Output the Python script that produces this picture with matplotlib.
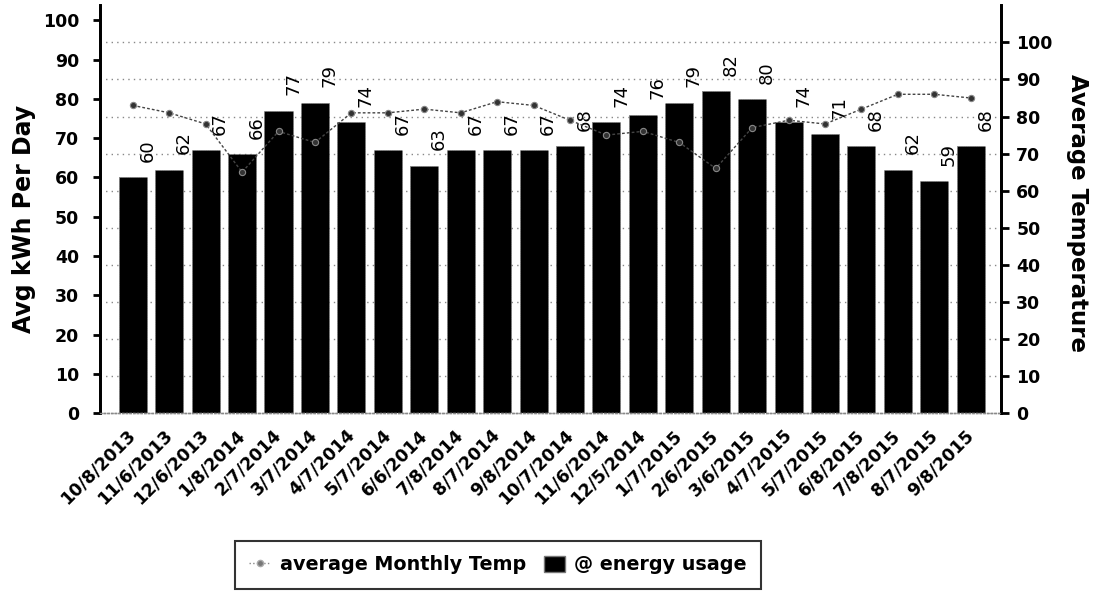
import matplotlib.pyplot as plt
import numpy as np
from matplotlib.patches import Patch
from matplotlib.lines import Line2D

dates = ['10/8/2013', '11/6/2013', '12/6/2013', '1/8/2014', '2/7/2014', '3/7/2014',
         '4/7/2014', '5/7/2014', '6/6/2014', '7/8/2014', '8/7/2014', '9/8/2014',
         '10/7/2014', '11/6/2014', '12/5/2014', '1/7/2015', '2/6/2015', '3/6/2015',
         '4/7/2015', '5/7/2015', '6/8/2015', '7/8/2015', '8/7/2015', '9/8/2015']
kwh_per_day = [60, 62, 67, 66, 77, 79, 74, 67, 63, 67, 67, 67,
               68, 74, 76, 79, 82, 80, 74, 71, 68, 62, 59, 68]
avg_temp = [83, 81, 78, 65, 76, 73, 81, 81, 82, 81, 84, 83,
            79, 75, 76, 73, 66, 77, 79, 78, 82, 86, 86, 85]
temp_ticks = [0, 10, 20, 30, 40, 50, 60, 70, 80, 90, 100]
kwh_ticks = [0, 10, 20, 30, 40, 50, 60, 70, 80, 90, 100]

plt.rcParams['font.family'] = 'DejaVu Sans'

fig = plt.figure(figsize=(11.11, 5.91), dpi=100)
ax = fig.add_axes([0.090, 0.301, 0.811, 0.690])
ax2 = ax.twinx()

x = np.arange(len(dates))
left_top = 103.8
right_top = 110.0

# grid follows the temperature ticks, drawn behind the bars
for t in temp_ticks[1:]:
    ax.axhline(t * left_top / right_top, color='#888888', linestyle=(0, (1, 3)),
               linewidth=1.0, zorder=0)

ax.bar(x, kwh_per_day, width=0.77, color='black', edgecolor='#777777',
       linewidth=0.6, linestyle=':', zorder=2)

for xi, v in zip(x, kwh_per_day):
    ax.annotate(str(v), (xi + 0.4, v), xytext=(0, 11), textcoords='offset points',
                rotation=90, ha='center', va='bottom', fontsize=13, zorder=3)

ax2.plot(x, avg_temp, color='#444444', linestyle=(0, (2, 1.5)), linewidth=1.0,
         marker='o', markersize=4.5, markerfacecolor='#333333',
         markeredgecolor='#888888', markeredgewidth=0.8)

ax.set_xlim(-0.9, 23.83)
ax.set_ylim(0, left_top)
ax2.set_ylim(0, right_top)

ax.set_yticks(kwh_ticks)
ax2.set_yticks(temp_ticks)
ax.set_xticks(x)
ax.set_xticklabels(dates, rotation=45, ha='right', va='center',
                   rotation_mode='anchor', fontsize=12.5, fontweight='bold')
ax.tick_params(axis='x', length=0, pad=14)
ax.tick_params(axis='y', length=5, width=2, labelsize=12.5, pad=10)
ax2.tick_params(axis='y', length=6, width=2, labelsize=12.5, pad=5)
for lab in ax.get_yticklabels() + ax2.get_yticklabels():
    lab.set_fontweight('bold')

for a in (ax, ax2):
    a.spines['top'].set_visible(False)
    a.spines['left'].set_linewidth(2)
    a.spines['right'].set_linewidth(2)
    a.spines['bottom'].set_color('#888888')
    a.spines['bottom'].set_linewidth(1)
    a.spines['bottom'].set_linestyle(':')
    a.patch.set_visible(False)

ax.set_ylabel('Avg kWh Per Day', fontsize=17, fontweight='bold')
ax.yaxis.set_label_coords(-0.071, 0.475)
ax2.set_ylabel('Average Temperature', fontsize=16.5, fontweight='bold', rotation=-90)
ax2.yaxis.set_label_coords(1.098, 0.49)

handles = [
    Line2D([0], [0], color='#888888', linestyle=':', linewidth=1.0, marker='o',
           markersize=4.5, markerfacecolor='#777777', markeredgecolor='#aaaaaa'),
    Patch(facecolor='black', edgecolor='#777777'),
]
leg = fig.legend(handles, ['average Monthly Temp', '@ energy usage'],
                 loc='center', bbox_to_anchor=(498 / 1111, 1 - 565 / 591), ncol=2,
                 prop={'size': 13.8, 'weight': 'bold'}, frameon=True, fancybox=False,
                 handlelength=1.1, handletextpad=0.5, columnspacing=0.9,
                 borderpad=0.75, borderaxespad=0, handleheight=0.9)
leg.get_frame().set_edgecolor('black')
leg.get_frame().set_linewidth(1.5)

fig.savefig('out.png', dpi=100)
